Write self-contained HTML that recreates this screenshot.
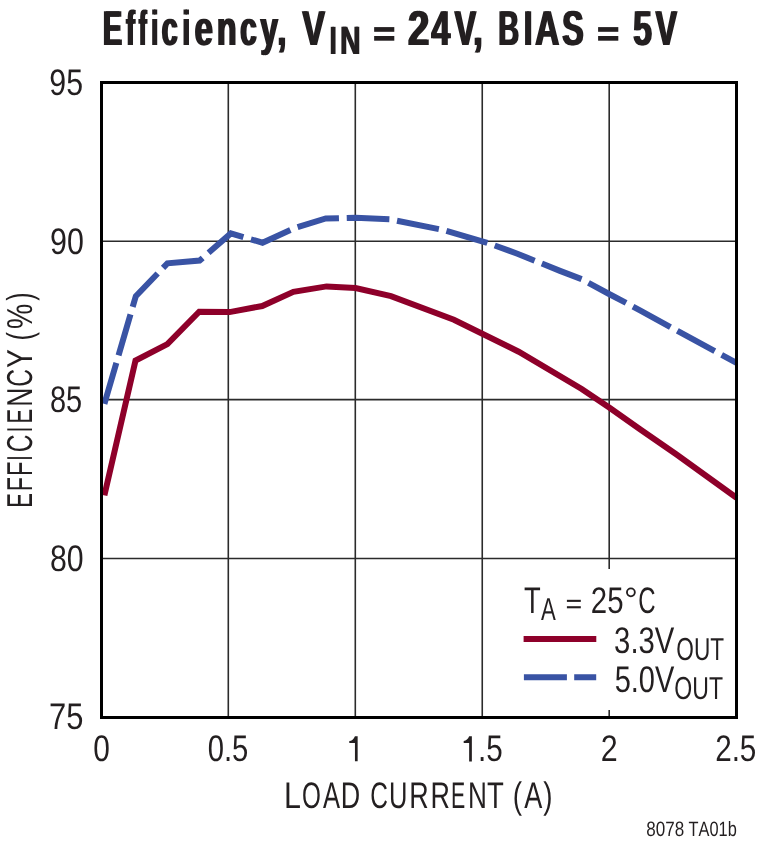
<!DOCTYPE html>
<html><head><meta charset="utf-8">
<style>
html,body{margin:0;padding:0;background:#fff;width:760px;height:842px;overflow:hidden}
svg{display:block;will-change:transform}
text{font-family:"Liberation Sans",sans-serif;fill:#231f20;font-kerning:none;text-rendering:geometricPrecision}
</style></head>
<body>
<svg width="760" height="842" viewBox="0 0 760 842">
<rect x="0" y="0" width="760" height="842" fill="#fff"/>
<g stroke="#2b2b2b" stroke-width="1.6" fill="none">
<line x1="228.3" y1="82.5" x2="228.3" y2="717.5"/>
<line x1="355.3" y1="82.5" x2="355.3" y2="717.5"/>
<line x1="482.25" y1="82.5" x2="482.25" y2="717.5"/>
<line x1="609.2" y1="82.5" x2="609.2" y2="717.5"/>
<line x1="101.5" y1="241.2" x2="736.5" y2="241.2"/>
<line x1="101.5" y1="399.6" x2="736.5" y2="399.6"/>
<line x1="101.5" y1="558.55" x2="736.5" y2="558.55"/>
</g>
<rect x="500" y="569" width="234" height="141" fill="#fff"/>
<polyline fill="none" stroke="#8e002a" stroke-width="6" stroke-linejoin="miter" points="104.4,495.3 135.5,360.6 167.4,344.1 199.2,311.7 229.6,312.1 262.2,306 293.4,291.8 326.6,286.4 355.5,288.1 391,296.1 453.9,319.7 518.7,351.7 581.7,389 609.2,407.5 640,429.3 676.2,454.3 736.5,497.8"/>
<polyline fill="none" stroke="#3953a4" stroke-width="6" stroke-dasharray="42.68 7.79" stroke-dashoffset="0" stroke-linejoin="miter" points="104.4,403.8 135.8,296.2 167.4,263.3 199.6,260.6 230.8,233.4 262.5,242.7 295,228 325.8,218.5 355.6,217.7 390,219.3 442.5,229.8 487.2,242.8 517.4,253.7 560,270.9 581.7,279.2 609.1,294 640,310.3 677.5,330.9 715,351.3 736.5,362.8"/>
<rect x="101.5" y="82.5" width="635" height="635" fill="none" stroke="#000" stroke-width="3"/>
<line x1="523.6" y1="639" x2="596.3" y2="639" stroke="#8e002a" stroke-width="6"/>
<line x1="523.9" y1="677.3" x2="596.2" y2="677.3" stroke="#3953a4" stroke-width="6" stroke-dasharray="43 7.3"/>
<g fill="#231f20">
<rect x="374.15" y="27.1" width="20.15" height="4.7"/><rect x="374.15" y="36" width="20.15" height="4.7"/>
<rect x="598.1" y="27.1" width="20.2" height="4.7"/><rect x="598.1" y="36" width="20.2" height="4.7"/>
<rect x="566.9" y="599.8" width="13.9" height="2.1"/><rect x="566.9" y="606.2" width="13.9" height="2.1"/>
</g>
<path fill="#231f20" d="M349.3,741.1 Q353,740.6 354.95,736.2 L357.65,736.2 L357.65,761.3 L354.95,761.3 L354.95,742.9 L349.3,742.9 Z"/>
<path fill="#231f20" d="M463.7,741 Q467.4,740.5 469.15,736.2 L471.86,736.2 L471.86,761.4 L469.15,761.4 L469.15,743 L463.7,743 Z"/>
<circle cx="630.9" cy="592.35" r="3.95" fill="none" stroke="#231f20" stroke-width="1.85"/>
<text font-size="49" font-weight="bold" transform="matrix(0.582 0 0 1 102.115 45)">E</text>
<text font-size="49" font-weight="bold" transform="matrix(0.582 0 0 1 103.915 45)">E</text>
<text font-size="49" font-weight="bold" transform="matrix(0.5308 0 0 1 125.314 45)">f</text>
<text font-size="49" font-weight="bold" transform="matrix(0.5308 0 0 1 127.114 45)">f</text>
<text font-size="49" font-weight="bold" transform="matrix(0.4729 0 0 1 138.044 45)">f</text>
<text font-size="49" font-weight="bold" transform="matrix(0.4729 0 0 1 139.844 45)">f</text>
<text font-size="49" font-weight="bold" transform="matrix(0.4899 0 0 1 150.568 45)">i</text>
<text font-size="49" font-weight="bold" transform="matrix(0.4899 0 0 1 152.368 45)">i</text>
<text font-size="49" font-weight="bold" transform="matrix(0.5901 0 0 1 160.82 45)">c</text>
<text font-size="49" font-weight="bold" transform="matrix(0.5901 0 0 1 162.62 45)">c</text>
<text font-size="49" font-weight="bold" transform="matrix(0.5162 0 0 1 181.869 45)">i</text>
<text font-size="49" font-weight="bold" transform="matrix(0.5162 0 0 1 183.669 45)">i</text>
<text font-size="49" font-weight="bold" transform="matrix(0.6695 0 0 1 193.661 45)">e</text>
<text font-size="49" font-weight="bold" transform="matrix(0.6695 0 0 1 195.461 45)">e</text>
<text font-size="49" font-weight="bold" transform="matrix(0.6603 0 0 1 215.881 45)">n</text>
<text font-size="49" font-weight="bold" transform="matrix(0.6603 0 0 1 217.681 45)">n</text>
<text font-size="49" font-weight="bold" transform="matrix(0.6109 0 0 1 239.238 45)">c</text>
<text font-size="49" font-weight="bold" transform="matrix(0.6109 0 0 1 241.038 45)">c</text>
<text font-size="49" font-weight="bold" transform="matrix(0.6449 0 0 1 259.503 45)">y</text>
<text font-size="49" font-weight="bold" transform="matrix(0.6449 0 0 1 261.303 45)">y</text>
<text font-size="49" font-weight="bold" transform="matrix(0.6615 0 0 1 276.417 45)">,</text>
<text font-size="49" font-weight="bold" transform="matrix(0.6615 0 0 1 278.217 45)">,</text>
<text font-size="49" font-weight="bold" transform="matrix(0.6915 0 0 1 301.396 45)">V</text>
<text font-size="49" font-weight="bold" transform="matrix(0.6915 0 0 1 303.196 45)">V</text>
<text font-size="49" font-weight="bold" transform="matrix(0.7808 0 0 1 407.114 45)">2</text>
<text font-size="49" font-weight="bold" transform="matrix(0.7808 0 0 1 408.914 45)">2</text>
<text font-size="49" font-weight="bold" transform="matrix(0.6935 0 0 1 430.409 45)">4</text>
<text font-size="49" font-weight="bold" transform="matrix(0.6935 0 0 1 432.209 45)">4</text>
<text font-size="49" font-weight="bold" transform="matrix(0.6568 0 0 1 453.703 45)">V</text>
<text font-size="49" font-weight="bold" transform="matrix(0.6568 0 0 1 455.503 45)">V</text>
<text font-size="49" font-weight="bold" transform="matrix(0.7101 0 0 1 472.161 45)">,</text>
<text font-size="49" font-weight="bold" transform="matrix(0.7101 0 0 1 473.961 45)">,</text>
<text font-size="49" font-weight="bold" transform="matrix(0.5841 0 0 1 497.537 45)">B</text>
<text font-size="49" font-weight="bold" transform="matrix(0.5841 0 0 1 499.337 45)">B</text>
<text font-size="49" font-weight="bold" transform="matrix(0.6227 0 0 1 522.944 45)">I</text>
<text font-size="49" font-weight="bold" transform="matrix(0.6227 0 0 1 524.744 45)">I</text>
<text font-size="49" font-weight="bold" transform="matrix(0.6833 0 0 1 534.203 45)">A</text>
<text font-size="49" font-weight="bold" transform="matrix(0.6833 0 0 1 536.003 45)">A</text>
<text font-size="49" font-weight="bold" transform="matrix(0.6537 0 0 1 561.346 45)">S</text>
<text font-size="49" font-weight="bold" transform="matrix(0.6537 0 0 1 563.146 45)">S</text>
<text font-size="49" font-weight="bold" transform="matrix(0.6913 0 0 1 632.293 45)">5</text>
<text font-size="49" font-weight="bold" transform="matrix(0.6913 0 0 1 634.093 45)">5</text>
<text font-size="49" font-weight="bold" transform="matrix(0.6543 0 0 1 654.805 45)">V</text>
<text font-size="49" font-weight="bold" transform="matrix(0.6543 0 0 1 656.605 45)">V</text>
<text font-size="39.5" font-weight="bold" transform="matrix(0.576 0 0 1 329.28 54)">I</text>
<text font-size="39.5" font-weight="bold" transform="matrix(0.576 0 0 1 330.68 54)">I</text>
<text font-size="39.5" font-weight="bold" transform="matrix(0.7156 0 0 1 339.456 54)">N</text>
<text font-size="39.5" font-weight="bold" transform="matrix(0.7156 0 0 1 340.856 54)">N</text>
<text font-size="37" transform="matrix(0.8187 0 0 1 49.363 94.75)">95</text>
<text font-size="37" transform="matrix(0.8213 0 0 1 50.051 253.55)">90</text>
<text font-size="37" transform="matrix(0.7823 0 0 1 49.919 411.95)">85</text>
<text font-size="37" transform="matrix(0.8182 0 0 1 49.879 570.65)">80</text>
<text font-size="37" transform="matrix(0.8349 0 0 1 49.025 729.05)">75</text>
<text font-size="37" transform="matrix(0.8065 0 0 1 93.373 761)">0</text>
<text font-size="37" transform="matrix(0.7898 0 0 1 207.711 761)">0.5</text>
<text font-size="37" transform="matrix(0.8005 0 0 1 477.99 761)">.5</text>
<text font-size="37" transform="matrix(0.8235 0 0 1 600.653 761)">2</text>
<text font-size="37" transform="matrix(0.8014 0 0 1 715.138 761)">2.5</text>
<text font-size="37" transform="matrix(0.8238 0 0 1 284.001 808)">L</text>
<text font-size="37" transform="matrix(0.6563 0 0 1 301.984 808)">O</text>
<text font-size="37" transform="matrix(0.6904 0 0 1 322.888 808)">A</text>
<text font-size="37" transform="matrix(0.7273 0 0 1 340.818 808)">D</text>
<text font-size="37" transform="matrix(0.6616 0 0 1 370.28 808)">C</text>
<text font-size="37" transform="matrix(0.6892 0 0 1 389.0 808)">U</text>
<text font-size="37" transform="matrix(0.7273 0 0 1 409.318 808)">R</text>
<text font-size="37" transform="matrix(0.7273 0 0 1 430.418 808)">R</text>
<text font-size="37" transform="matrix(0.5761 0 0 1 450.967 808)">E</text>
<text font-size="37" transform="matrix(0.7062 0 0 1 468.052 808)">N</text>
<text font-size="37" transform="matrix(0.7443 0 0 1 486.917 808)">T</text>
<text font-size="37" transform="matrix(0.7533 0 0 1 512.652 808)">(</text>
<text font-size="37" transform="matrix(0.7324 0 0 1 524.209 808)">A</text>
<text font-size="37" transform="matrix(0.7519 0 0 1 543.283 808)">)</text>
<text font-size="37" transform="matrix(0.7393 0 0 1 524.033 612.7)">T</text>
<text font-size="31.8" transform="matrix(0.6968 0 0 1 541.0 620.1)">A</text>
<text font-size="37" transform="matrix(0.795 0 0 1 590.802 612.8)">25</text>
<text font-size="37" transform="matrix(0.6488 0 0 1 638.301 612.8)">C</text>
<text font-size="37" transform="matrix(0.7909 0 0 1 614.102 653.4)">3.3V</text>
<text font-size="31.8" transform="matrix(0.7121 0 0 1 676.288 660.1)">OUT</text>
<text font-size="37" transform="matrix(0.7829 0 0 1 614.709 691.5)">5.0V</text>
<text font-size="31.8" transform="matrix(0.7258 0 0 1 674.368 698.9)">OUT</text>
<text font-size="20.8" transform="matrix(0.8202 0 0 1 646.27 836.2)">8078</text>
<text font-size="20.8" transform="matrix(0.7872 0 0 1 688.587 836.2)">TA01b</text>
<text font-size="36" transform="translate(32.0 507.843) rotate(-90) scale(0.6145 1)">E</text>
<text font-size="36" transform="translate(32.0 491.335) rotate(-90) scale(0.6451 1)">F</text>
<text font-size="36" transform="translate(32.0 475.911) rotate(-90) scale(0.6537 1)">F</text>
<text font-size="36" transform="translate(32.0 460.64) rotate(-90) scale(0.5467 1)">I</text>
<text font-size="36" transform="translate(32.0 452.364) rotate(-90) scale(0.6818 1)">C</text>
<text font-size="36" transform="translate(32.0 432.34) rotate(-90) scale(0.5467 1)">I</text>
<text font-size="36" transform="translate(32.0 423.52) rotate(-90) scale(0.6067 1)">E</text>
<text font-size="36" transform="translate(32.0 406.805) rotate(-90) scale(0.7351 1)">N</text>
<text font-size="36" transform="translate(32.0 386.764) rotate(-90) scale(0.6818 1)">C</text>
<text font-size="36" transform="translate(32.0 367.986) rotate(-90) scale(0.7864 1)">Y</text>
<text font-size="36" transform="translate(32.0 340.468) rotate(-90) scale(0.709 1)">(</text>
<text font-size="36" transform="translate(32.0 328.99) rotate(-90) scale(0.79 1)">%</text>
<text font-size="36" transform="translate(32.0 300.8) rotate(-90) scale(0.6947 1)">)</text>
</svg>
</body></html>
